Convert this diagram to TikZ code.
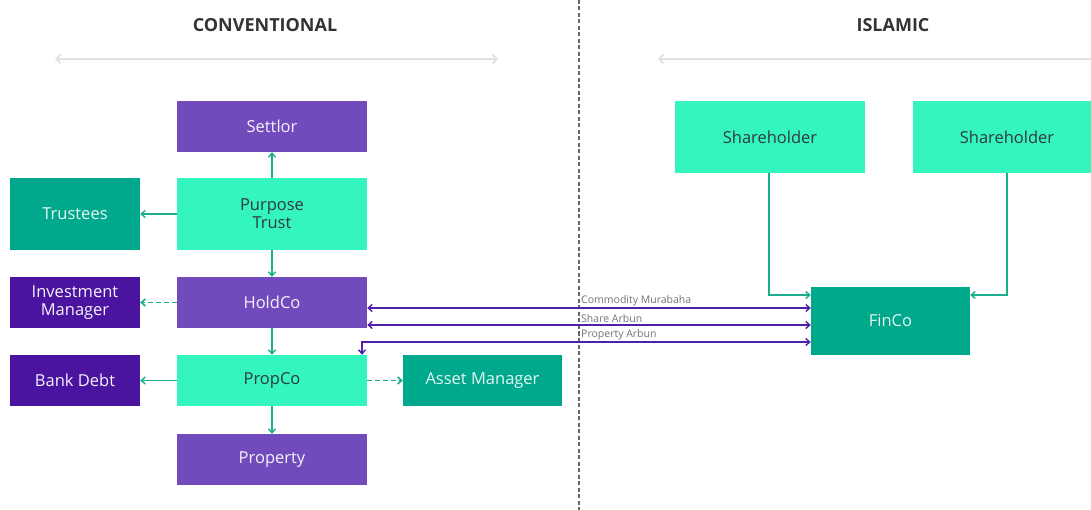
\documentclass[tikz,border=0pt]{standalone}
\usepackage{fontspec}
\setmainfont{Open Sans}
\usetikzlibrary{arrows.meta}
\definecolor{cpurple}{HTML}{714BBC}
\definecolor{cmint}{HTML}{35F5BE}
\definecolor{cteal}{HTML}{00A88C}
\definecolor{cdark}{HTML}{4A14A0}
\definecolor{clink}{HTML}{1AAE8F}
\definecolor{cplink}{HTML}{5020A8}
\definecolor{ctitle}{HTML}{333333}
\definecolor{cgreyline}{HTML}{E2E2E2}
\definecolor{cmintText}{HTML}{2E3B38}
\tikzset{
  box/.style={rectangle, inner sep=0pt, align=center, font=\fontsize{16.5}{18}\selectfont},
  pbox/.style={box, fill=cpurple, text=white!92!cpurple},
  mbox/.style={box, fill=cmint, text=cmintText},
  tbox/.style={box, fill=cteal, text=white!90!cteal},
  dbox/.style={box, fill=cdark, text=white!95!cdark},
  conn/.style={draw=clink, line width=1.4pt, -{Straight Barb[length=4pt,width=7pt]}},
  dconn/.style={conn, line width=1.6pt, dash pattern=on 5pt off 3pt},
  pconn/.style={draw=cplink, line width=1.4pt, {Straight Barb[length=4pt,width=7pt]}-{Straight Barb[length=4pt,width=7pt]}},
  lbl/.style={font=\fontsize{10.5}{11}\selectfont, text=gray!90!black, anchor=south west, inner sep=1pt},
  ttl/.style={font=\fontsize{18}{20}\selectfont\bfseries, text=ctitle},
}
\begin{document}
\begin{tikzpicture}[x=1pt,y=-1pt]
\useasboundingbox (0,0) rectangle (1091,510);
% titles
\node[ttl] (tconv) at (265,25) {CONVENTIONAL};
\node[ttl] (tisl) at (893,25) {ISLAMIC};
\coordinate (g1a) at (55,59);
\coordinate (g1b) at (498,59);
\coordinate (g2a) at (658,59);
\coordinate (g2b) at (1100,59);
\draw[cgreyline, line width=2pt, {Straight Barb[length=4pt,width=9pt]}-{Straight Barb[length=4pt,width=9pt]}] (g1a) -- (g1b);
\draw[cgreyline, line width=2pt, {Straight Barb[length=4pt,width=9pt]}-] (g2a) -- (g2b);
% divider
\coordinate (d1) at (579,0);
\coordinate (d2) at (579,510);
\draw[gray!80!black, line width=1.2pt, dash pattern=on 4pt off 2.5pt] (d1) -- (d2);
% boxes
\node[pbox, minimum width=190pt, minimum height=51pt] (settlor) at (272,126.5) {Settlor};
\node[mbox, minimum width=190pt, minimum height=72pt] (trust) at (272,214) {Purpose\\Trust};
\node[tbox, minimum width=130pt, minimum height=72pt] (trustees) at (75,214) {Trustees};
\node[pbox, minimum width=190pt, minimum height=51pt] (holdco) at (272,302.5) {HoldCo};
\node[dbox, minimum width=130pt, minimum height=51pt] (invm) at (75,302.5) {Investment\\Manager};
\node[mbox, minimum width=190pt, minimum height=51pt] (propco) at (272,380.5) {PropCo};
\node[dbox, minimum width=130pt, minimum height=51pt] (bank) at (75,380.5) {Bank Debt};
\node[tbox, minimum width=159pt, minimum height=51pt] (assetm) at (482.5,380.5) {Asset Manager};
\node[pbox, minimum width=190pt, minimum height=51pt] (property) at (272,459.5) {Property};
\node[mbox, minimum width=190pt, minimum height=72pt] (sh1) at (770,137) {Shareholder};
\node[mbox, minimum width=188pt, minimum height=72pt] (sh2) at (1007,137) {Shareholder};
\node[tbox, minimum width=159pt, minimum height=68pt] (finco) at (890.5,321) {FinCo};
% conventional connectors
\draw[conn] (trust.north) -- (settlor.south);
\draw[conn] (trust.west) -- (trustees.east);
\draw[conn] (trust.south) -- (holdco.north);
\draw[dconn] (holdco.west) -- (invm.east);
\draw[conn] (holdco.south) -- (propco.north);
\draw[conn] (propco.west) -- (bank.east);
\draw[dconn] (propco.east) -- (assetm.west);
\draw[conn] (propco.south) -- (property.north);
% islamic connectors
\draw[conn] ([xshift=-1pt]sh1.south) |- ([yshift=26pt]finco.west);
\draw[conn] (sh2.south) |- ([yshift=26pt]finco.east);
% cross connectors
\coordinate (cm1) at (0,308);
\coordinate (sa1) at (0,325);
\coordinate (pa1) at (362,342);
\draw[pconn] (holdco.east |- cm1) -- (finco.west |- cm1);
\draw[pconn] (holdco.east |- sa1) -- (finco.west |- sa1);
\draw[pconn] (propco.north -| pa1) -- (pa1) -- (finco.west |- pa1);
\node[lbl] (l1) at (580,307) {Commodity Murabaha};
\node[lbl] (l2) at (580,324) {Share Arbun};
\node[lbl] (l3) at (580,341) {Property Arbun};
\end{tikzpicture}
\end{document}
